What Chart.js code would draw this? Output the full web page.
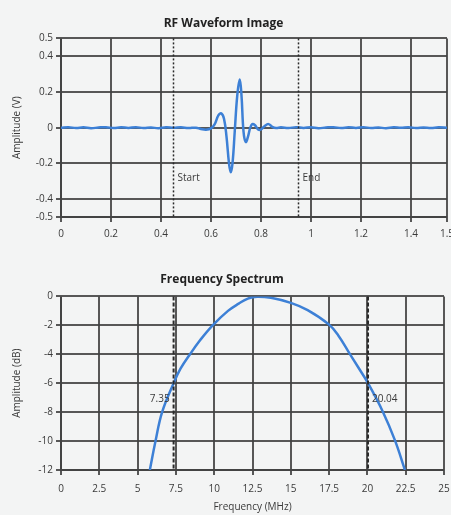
<!DOCTYPE html>
<html>
<head>
<meta charset="utf-8">
<script src="https://cdn.jsdelivr.net/npm/chart.js@4"></script>
<style>
  html, body { margin: 0; padding: 0; background: #f3f4f4; }
  #wrap { position: relative; width: 451px; height: 515px; }
  canvas { position: absolute; left: 0; }
  #wave { top: 0; }
  #spec { top: 258px; }
</style>
</head>
<body>
<div id="wrap">
  <canvas id="wave" width="451" height="258"></canvas>
  <canvas id="spec" width="451" height="257"></canvas>
</div>
<script>
// RF waveform: time (x) and amplitude in volts
const waveT = [0, 0.03, 0.06, 0.09, 0.12, 0.15, 0.18, 0.21, 0.24, 0.27, 0.30, 0.33, 0.36, 0.39, 0.42, 0.45, 0.48, 0.51, 0.54,
  0.56, 0.58, 0.60, 0.615, 0.63, 0.641, 0.652, 0.662, 0.672, 0.679, 0.686, 0.695, 0.705, 0.715, 0.722, 0.73, 0.739, 0.748,
  0.757, 0.765, 0.775, 0.79, 0.80, 0.815, 0.83, 0.845, 0.86, 0.88, 0.91, 0.94, 0.97, 1.00, 1.03, 1.06, 1.09, 1.12, 1.15,
  1.18, 1.21, 1.24, 1.27, 1.30, 1.33, 1.36, 1.39, 1.42, 1.45, 1.48, 1.51, 1.544];
const waveV = [0, 0.003, -0.002, 0.002, -0.003, 0.001, 0.003, -0.002, 0.002, -0.001, 0.003, -0.002, 0.001, -0.003, 0.002, 0, 0.002, -0.002, 0,
  -0.007, -0.011, -0.004, 0.02, 0.07, 0.08, 0.05, -0.05, -0.2, -0.25, -0.2, -0.02, 0.18, 0.27, 0.18, -0.02, -0.08, -0.05,
  0, 0.02, 0.015, -0.012, -0.01, 0.01, 0.02, 0.005, -0.002, 0.002, -0.002, 0.003, -0.001, 0.002, -0.003, 0.001, 0.003, -0.002, 0.002,
  -0.001, 0.003, -0.002, 0.001, -0.003, 0.002, 0, 0.003, -0.002, 0.001, -0.002, 0.002, 0];
const waveTicksX = [0, 0.2, 0.4, 0.6, 0.8, 1, 1.2, 1.4];
const waveMaxX = 1.544;
const waveMaxLabel = '1.5';
const waveTicksY = [-0.5, -0.4, -0.2, 0, 0.2, 0.4, 0.5];
const waveMarkers = [0.45, 0.95];
const waveMarkerLabels = ['Start', 'End'];

// Frequency spectrum: MHz and dB
const specF = [5.8, 6.17, 6.6, 7.35, 7.8, 8.42, 9.1, 9.9, 10.9, 11.6, 12.2, 12.8, 13.7, 15, 16.1, 17.5,
  18.1, 18.75, 19.4, 20.04, 21.0, 21.8, 22.45];
const specDb = [-12, -10, -8, -6, -5, -4, -3, -2, -1, -0.5, -0.15, -0.02, -0.1, -0.45, -0.95, -1.95,
  -2.7, -3.8, -4.9, -6, -7.95, -9.95, -12];
const specTicksX = [0, 2.5, 5, 7.5, 10, 12.5, 15, 17.5, 20, 22.5, 25];
const specTicksY = [-12, -10, -8, -6, -4, -2, 0];
const specMarkers = [7.35, 20.04];
const specMarkerLabels = ['7.35', '20.04'];

const FONT = 'Open Sans';
const GRID = 'rgba(65,65,65,0.88)';
const TEXT = '#3a3a3a';
const BLUE = '#3d80d6';

// vertical marker lines and their labels
const markerPlugin = {
  id: 'markers',
  afterDatasetsDraw(chart, args, opts) {
    const { ctx, chartArea, scales } = chart;
    ctx.save();
    opts.values.forEach((v, i) => {
      const px = scales.x.getPixelForValue(v);
      ctx.strokeStyle = '#2a2a2a';
      ctx.lineWidth = opts.width;
      ctx.setLineDash(opts.dash);
      ctx.beginPath();
      ctx.moveTo(px, chartArea.top);
      ctx.lineTo(px, chartArea.bottom);
      ctx.stroke();
      ctx.setLineDash([]);
      ctx.font = '10px "' + FONT + '"';
      ctx.fillStyle = TEXT;
      ctx.textBaseline = 'middle';
      const py = scales.y.getPixelForValue(opts.labelY);
      const side = opts.sides[i];
      ctx.textAlign = side < 0 ? 'right' : 'left';
      ctx.fillText(opts.labels[i], px + side * 4, py);
    });
    ctx.restore();
  }
};

function fixY(scale) { scale.width = 61; scale.paddingTop = 0; scale.paddingBottom = 0; }
function fixX(h) { return scale => { scale.height = h; scale.paddingLeft = 0; scale.paddingRight = 0; }; }

function axisBase(pad) {
  return {
    type: 'linear',
    border: { color: GRID, width: 2 },
    grid: { color: GRID, lineWidth: 2, tickLength: 5, drawTicks: true },
    ticks: { color: TEXT, font: { family: FONT, size: 10 }, padding: pad, autoSkip: false, maxRotation: 0 }
  };
}

// RF waveform chart
const wx = axisBase(6);
Object.assign(wx, {
  min: 0, max: waveMaxX,
  afterBuildTicks: s => { s.ticks = waveTicksX.concat([waveMaxX]).map(v => ({ value: v })); },
  afterFit: fixX(41)
});
wx.ticks.callback = v => (v === waveMaxX ? waveMaxLabel : String(v));
const wy = axisBase(3);
Object.assign(wy, {
  min: -0.5, max: 0.5,
  afterBuildTicks: s => { s.ticks = waveTicksY.map(v => ({ value: v })); },
  afterFit: fixY,
  title: { display: true, text: 'Amplitude (V)', color: TEXT, font: { family: FONT, size: 10 }, padding: { top: 11, bottom: 0 } }
});
wy.ticks.callback = v => String(v);

new Chart(document.getElementById('wave'), {
  type: 'line',
  data: {
    datasets: [{
      data: waveT.map((t, i) => ({ x: t, y: waveV[i] })),
      borderColor: BLUE, borderWidth: 2.5, pointRadius: 0, tension: 0.4, fill: false
    }]
  },
  options: {
    responsive: false, animation: false,
    layout: { padding: { left: 0, right: 4, top: 0, bottom: 0 } },
    scales: { x: wx, y: wy },
    plugins: {
      legend: { display: false }, tooltip: { enabled: false },
      title: { display: true, text: 'RF Waveform Image', color: '#222', font: { family: FONT, size: 12, weight: 'bold' }, padding: { top: 16, bottom: 8 } },
      markers: { values: waveMarkers, labels: waveMarkerLabels, sides: [1, 1], labelY: -0.28, dash: [2, 2], width: 1.5 }
    }
  },
  plugins: [markerPlugin]
});

// Frequency spectrum chart
const sx = axisBase(8);
Object.assign(sx, {
  min: 0, max: 25,
  afterBuildTicks: s => { s.ticks = specTicksX.map(v => ({ value: v })); },
  afterFit: fixX(45),
  title: { display: true, text: 'Frequency (MHz)', color: TEXT, font: { family: FONT, size: 10 }, padding: { top: 0, bottom: 2 } }
});
sx.ticks.callback = v => String(v);
const sy = axisBase(3);
Object.assign(sy, {
  min: -12, max: 0,
  afterBuildTicks: s => { s.ticks = specTicksY.map(v => ({ value: v })); },
  afterFit: fixY,
  title: { display: true, text: 'Amplitude (dB)', color: TEXT, font: { family: FONT, size: 10 }, padding: { top: 11, bottom: 0 } }
});
sy.ticks.callback = v => String(v);

new Chart(document.getElementById('spec'), {
  type: 'line',
  data: {
    datasets: [{
      data: specF.map((f, i) => ({ x: f, y: specDb[i] })),
      borderColor: BLUE, borderWidth: 2.5, pointRadius: 0, tension: 0.4, fill: false
    }]
  },
  options: {
    responsive: false, animation: false,
    layout: { padding: { left: 0, right: 7, top: 0, bottom: 0 } },
    scales: { x: sx, y: sy },
    plugins: {
      legend: { display: false }, tooltip: { enabled: false },
      title: { display: true, text: 'Frequency Spectrum', color: '#222', font: { family: FONT, size: 12, weight: 'bold' }, padding: { top: 14, bottom: 10 } },
      markers: { values: specMarkers, labels: specMarkerLabels, sides: [-1, 1], labelY: -7.1, dash: [4, 2], width: 2 }
    }
  },
  plugins: [markerPlugin]
});
</script>
</body>
</html>
